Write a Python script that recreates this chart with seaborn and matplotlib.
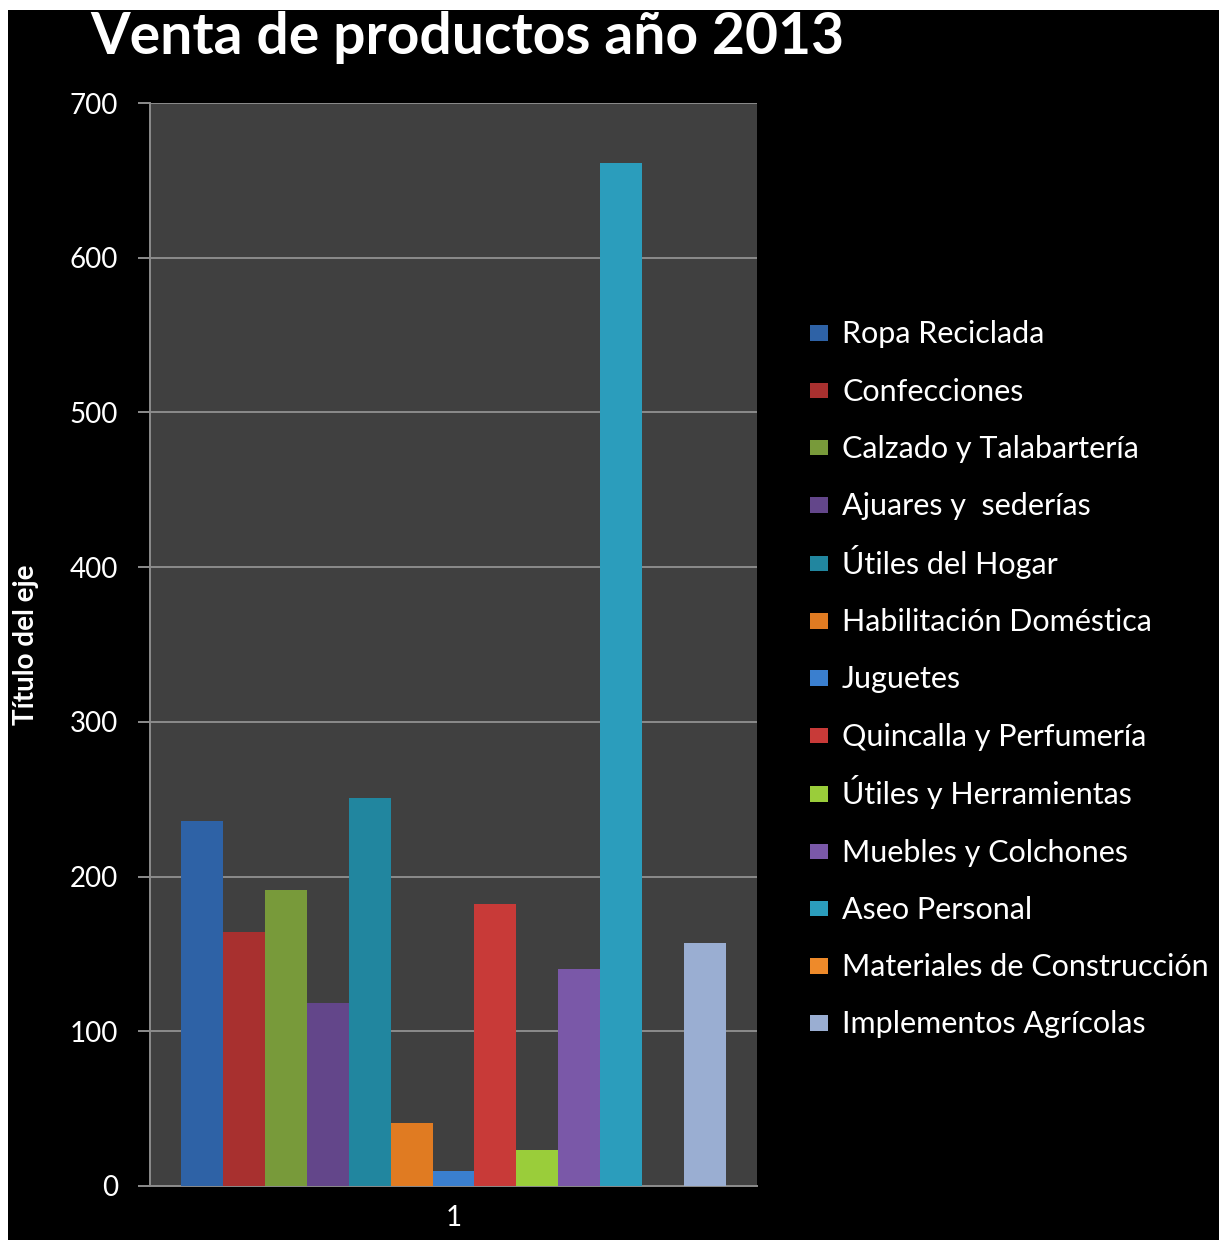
import matplotlib
matplotlib.use("Agg")
import matplotlib.pyplot as plt
import seaborn as sns
import pandas as pd
from matplotlib.patches import Rectangle
from matplotlib.legend_handler import HandlerPatch

categories = ["Ropa Reciclada", "Confecciones", "Calzado y Talabartería",
              "Ajuares y  sederías", "Útiles del Hogar", "Habilitación Doméstica",
              "Juguetes", "Quincalla y Perfumería", "Útiles y Herramientas",
              "Muebles y Colchones", "Aseo Personal", "Materiales de Construcción",
              "Implementos Agrícolas"]
values = [236, 164, 191, 118, 251, 41, 10, 182, 23, 140, 661, 0, 157]
colors = ["#2E62A6", "#A8302F", "#789A3A", "#63468A", "#21869F", "#E07B22",
          "#3A7FCF", "#C83A38", "#9ACD3A", "#7A58A8", "#2B9DBC", "#EE8A2A",
          "#9AAED2"]
group_label = ["1"]
y_ticks = [0, 100, 200, 300, 400, 500, 600, 700]

df = pd.DataFrame({"grupo": group_label * len(categories),
                   "producto": categories, "venta": values})

sns.set_theme(style="dark")
plt.rcParams['font.family'] = ['Lato', 'DejaVu Sans']

fig = plt.figure(figsize=(12.29, 12.40), dpi=100, facecolor="white")
fig.patches.append(Rectangle((8 / 1229, 0), (1219 - 8) / 1229, 1 - 10 / 1240,
                             transform=fig.transFigure, facecolor="black",
                             edgecolor="none", zorder=-10))

ax = fig.add_axes([150 / 1229, 1 - 1186 / 1240, (757 - 150) / 1229, (1186 - 103) / 1240])
ax.set_facecolor("#404040")

sns.barplot(data=df, x="grupo", y="venta", hue="producto", hue_order=categories,
            palette=colors, width=0.898, gap=0, ax=ax, legend=True,
            edgecolor="none", linewidth=0, saturation=1, zorder=3)

ax.set_xlim(-0.5, 0.5)
ax.set_ylim(0, 700)
ax.set_yticks(y_ticks)
ax.yaxis.grid(True, color="#8C8C8C", linewidth=1.4, zorder=0)
ax.xaxis.grid(False)
ax.set_axisbelow(True)

for s in ["top", "right"]:
    ax.spines[s].set_visible(False)
for s in ["left", "bottom"]:
    ax.spines[s].set_visible(True)
    ax.spines[s].set_color("#8C8C8C")
    ax.spines[s].set_linewidth(1.4)

ax.tick_params(axis="y", colors="#8C8C8C", length=9, width=1.4, labelcolor="white",
               labelsize=20, pad=14, left=True)
ax.tick_params(axis="x", length=0, labelcolor="white", labelsize=20, pad=14)
ax.set_xlabel("")
ax.set_ylabel("Título del eje", color="white", fontsize=20, fontweight="bold", labelpad=22)

fig.text(467 / 1229, 1 - 37 / 1240, "Venta de productos año 2013", color="white",
         fontsize=41, fontweight="bold", ha="center", va="center")


def small_square(legend, orig_handle, xdescent, ydescent, width, height, fontsize):
    h = width * 0.85
    return Rectangle((-xdescent, -ydescent + (height - h) / 2), width, h)


handles, labels = ax.get_legend_handles_labels()
ax.legend_.remove()
leg = fig.legend(handles, labels, loc="upper left",
                 bbox_to_anchor=(810 / 1229, 1 - 316 / 1240),
                 frameon=False, fontsize=22, labelcolor="white",
                 handlelength=0.6, handleheight=1.35, handletextpad=0.45,
                 labelspacing=0.75, borderaxespad=0, borderpad=0,
                 handler_map={Rectangle: HandlerPatch(patch_func=small_square)})

fig.savefig("out.png", dpi=100, facecolor=fig.get_facecolor())
